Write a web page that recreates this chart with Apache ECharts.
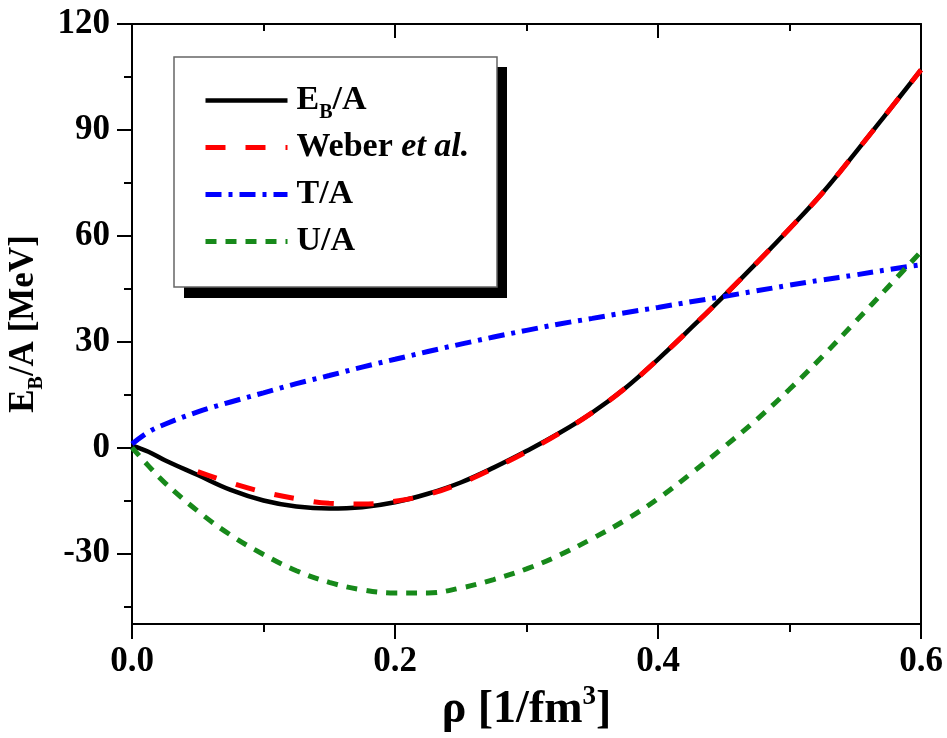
<!DOCTYPE html>
<html>
<head>
<meta charset="utf-8">
<title>Binding energy per nucleon</title>
<script src="https://cdn.jsdelivr.net/npm/echarts@6/dist/echarts.min.js"></script>
<style>
  html, body { margin: 0; padding: 0; background: #fff; }
  #chart { width: 947px; height: 738px; }
</style>
</head>
<body>
<div id="chart"></div>
<script>
// Density grid [1/fm^3]
const rho = [0, 0.0125, 0.025, 0.05, 0.075, 0.1, 0.125, 0.15, 0.175, 0.2, 0.225, 0.25, 0.275,
             0.3, 0.325, 0.35, 0.375, 0.4, 0.425, 0.45, 0.475, 0.5, 0.525, 0.55, 0.575, 0.6];

// Binding energy per nucleon E_B/A [MeV]
const bindingEnergy = [0.5, -1.2, -3.6, -7.8, -12.0, -15.0, -16.7, -17.3, -16.9, -15.5, -13.1, -9.9, -5.7,
                       -1.0, 4.1, 9.9, 16.8, 25.0, 33.8, 42.9, 52.3, 62.0, 72.1, 83.5, 95.2, 107.0];

// Reference curve (Weber et al.), given from rho = 0.05 onward
const weberRho = [0.05, 0.075, 0.1, 0.125, 0.15, 0.175, 0.2, 0.225, 0.25, 0.275,
                  0.3, 0.325, 0.35, 0.375, 0.4, 0.425, 0.45, 0.475, 0.5, 0.525, 0.55, 0.575, 0.6];
const weberEnergy = [-6.8, -10.0, -12.6, -14.5, -15.8, -16.0, -15.2, -13.3, -10.1, -5.9,
                     -1.2, 4.0, 9.9, 16.8, 25.0, 33.8, 42.9, 52.3, 62.0, 72.1, 83.5, 95.2, 107.0];

// Kinetic energy per nucleon T/A [MeV]
const kineticEnergy = [1.0, 4.4, 6.6, 10.1, 12.9, 15.5, 18.1, 20.4, 22.8, 25.0, 27.2, 29.3, 31.3,
                       33.2, 35.0, 36.6, 38.2, 39.7, 41.3, 42.8, 44.4, 46.0, 47.5, 48.9, 50.4, 51.8];

// Potential energy per nucleon U/A [MeV]
const potentialEnergy = [0, -5.2, -10.0, -18.0, -24.8, -30.3, -34.9, -38.2, -40.3, -41.2, -41.2, -39.8, -37.4,
                         -34.4, -30.5, -25.8, -20.6, -14.5, -7.4, 0.1, 7.9, 16.5, 25.8, 35.6, 45.5, 55.5];

// Axis ticks
const xTicks = [0, 0.2, 0.4, 0.6];
const yMajorTicks = [-30, 0, 30, 60, 90, 120];
const yMinorTicks = [-45, -15, 15, 45, 75, 105];

const FONT = '"Liberation Serif", "Times New Roman", serif';

function pairs(xs, ys) {
  return xs.map((x, i) => [x, ys[i]]);
}

const chart = echarts.init(document.getElementById('chart'), null, { renderer: 'canvas' });

const axisLineStyle = { color: '#000', width: 2 };
const labelFont = { fontFamily: FONT, fontWeight: 'bold', fontSize: 35, color: '#000' };

// Series styling
const styles = {
  'E_B/A':        { color: '#000000', width: 4.5, type: 'solid' },
  'Weber et al.': { color: '#ff0000', width: 5, type: [20, 20] },
  'T/A':          { color: '#0000ff', width: 5, type: [16, 7, 4, 7] },
  'U/A':          { color: '#17891a', width: 5, type: [11, 9] }
};
const seriesNames = ['E_B/A', 'Weber et al.', 'T/A', 'U/A'];

const option = {
  animation: false,
  backgroundColor: '#fff',
  grid: { left: 132, right: 26, top: 24, bottom: 114, containLabel: false, outerBoundsMode: 'none' },
  xAxis: [
    {
      type: 'value', position: 'bottom', min: xTicks[0], max: xTicks[xTicks.length - 1],
      interval: xTicks[1] - xTicks[0],
      axisLine: { show: true, onZero: false, lineStyle: axisLineStyle },
      axisTick: { show: true, length: 15, lineStyle: axisLineStyle },
      minorTick: { show: true, splitNumber: 2, length: 8, lineStyle: axisLineStyle },
      splitLine: { show: false },
      axisLabel: Object.assign({ margin: 20, formatter: v => v.toFixed(1) }, labelFont),
      name: '{n|ρ [1/fm}{p|3}{n|]}',
      nameLocation: 'middle',
      nameGap: 60,
      nameTextStyle: {
        rich: {
          n: { fontFamily: FONT, fontWeight: 'bold', fontSize: 46, color: '#000', lineHeight: 52 },
          p: { fontFamily: FONT, fontWeight: 'bold', fontSize: 27, color: '#000', verticalAlign: 'top', lineHeight: 27 }
        }
      }
    },
    {
      type: 'value', position: 'top', min: xTicks[0], max: xTicks[xTicks.length - 1],
      interval: xTicks[1] - xTicks[0],
      axisLine: { show: true, onZero: false, lineStyle: axisLineStyle },
      axisTick: { show: true, inside: true, length: 14, lineStyle: axisLineStyle },
      minorTick: { show: true, splitNumber: 2, length: 7, lineStyle: axisLineStyle },
      splitLine: { show: false },
      axisLabel: { show: false }
    }
  ],
  yAxis: [
    {
      type: 'value', position: 'left', min: -50, max: 120,
      axisLine: { show: true, onZero: false, lineStyle: axisLineStyle },
      axisTick: { show: true, length: 15, lineStyle: axisLineStyle, customValues: yMajorTicks },
      splitLine: { show: false },
      axisLabel: Object.assign({ margin: 22, customValues: yMajorTicks }, labelFont),
      name: '{n|E}{s|B}{n|/A [MeV]}',
      nameLocation: 'middle',
      nameRotate: 90,
      nameGap: 82,
      nameTextStyle: {
        rich: {
          n: { fontFamily: FONT, fontWeight: 'bold', fontSize: 35, color: '#000', lineHeight: 45 },
          s: { fontFamily: FONT, fontWeight: 'bold', fontSize: 20, color: '#000', verticalAlign: 'top', lineHeight: 20, padding: [25, 0, 0, 0] }
        }
      }
    },
    {
      type: 'value', position: 'left', min: -50, max: 120,
      axisLine: { show: false, onZero: false },
      axisTick: { show: true, length: 8, lineStyle: axisLineStyle, customValues: yMinorTicks },
      splitLine: { show: false },
      axisLabel: { show: false }
    },
    {
      type: 'value', position: 'right', min: -50, max: 120,
      axisLine: { show: true, onZero: false, lineStyle: axisLineStyle },
      axisTick: { show: false },
      splitLine: { show: false },
      axisLabel: { show: false }
    }
  ],
  legend: {
    orient: 'vertical',
    left: 203,
    top: 78,
    padding: 0,
    itemWidth: 82,
    itemHeight: 45,
    itemGap: 2,
    z: 10,
    itemStyle: { color: 'transparent', borderColor: 'transparent', borderWidth: 0 },
    data: seriesNames.map(n => ({
      name: n,
      itemStyle: { color: 'transparent', borderColor: 'transparent', borderWidth: 0 },
      lineStyle: { color: styles[n].color, width: styles[n].width, type: styles[n].type }
    })),
    formatter: function (name) {
      if (name === 'E_B/A') return '{n|E}{s|B}{n|/A}';
      if (name === 'Weber et al.') return '{n|Weber }{i|et al.}';
      return '{n|' + name + '}';
    },
    textStyle: {
      fontSize: 34,
      lineHeight: 45,
      padding: [0, 0, 0, 4],
      rich: {
        n: { fontFamily: FONT, fontWeight: 'bold', fontSize: 34, color: '#000', lineHeight: 45 },
        s: { fontFamily: FONT, fontWeight: 'bold', fontSize: 20, color: '#000', verticalAlign: 'top', lineHeight: 20, padding: [25, 0, 0, 0] },
        i: { fontFamily: FONT, fontWeight: 'bold', fontStyle: 'italic', fontSize: 34, color: '#000', lineHeight: 45 }
      }
    }
  },
  graphic: [
    { type: 'rect', z: 8, shape: { x: 184, y: 67, width: 323, height: 231 }, style: { fill: '#000' } },
    { type: 'rect', z: 9, shape: { x: 174, y: 57, width: 323, height: 230 }, style: { fill: '#fff', stroke: '#666', lineWidth: 1.5 } }
  ],
  series: [
    {
      name: 'E_B/A', type: 'line', symbol: 'none', smooth: 0.4, z: 3,
      data: pairs(rho, bindingEnergy),
      lineStyle: styles['E_B/A'],
      itemStyle: { color: styles['E_B/A'].color }
    },
    {
      name: 'Weber et al.', type: 'line', symbol: 'none', smooth: 0.4, z: 4,
      data: pairs(weberRho, weberEnergy),
      lineStyle: styles['Weber et al.'],
      itemStyle: { color: styles['Weber et al.'].color }
    },
    {
      name: 'T/A', type: 'line', symbol: 'none', smooth: 0.4, z: 3,
      data: pairs(rho, kineticEnergy),
      lineStyle: styles['T/A'],
      itemStyle: { color: styles['T/A'].color }
    },
    {
      name: 'U/A', type: 'line', symbol: 'none', smooth: 0.4, z: 3,
      data: pairs(rho, potentialEnergy),
      lineStyle: styles['U/A'],
      itemStyle: { color: styles['U/A'].color }
    }
  ]
};

chart.setOption(option);
</script>
</body>
</html>
